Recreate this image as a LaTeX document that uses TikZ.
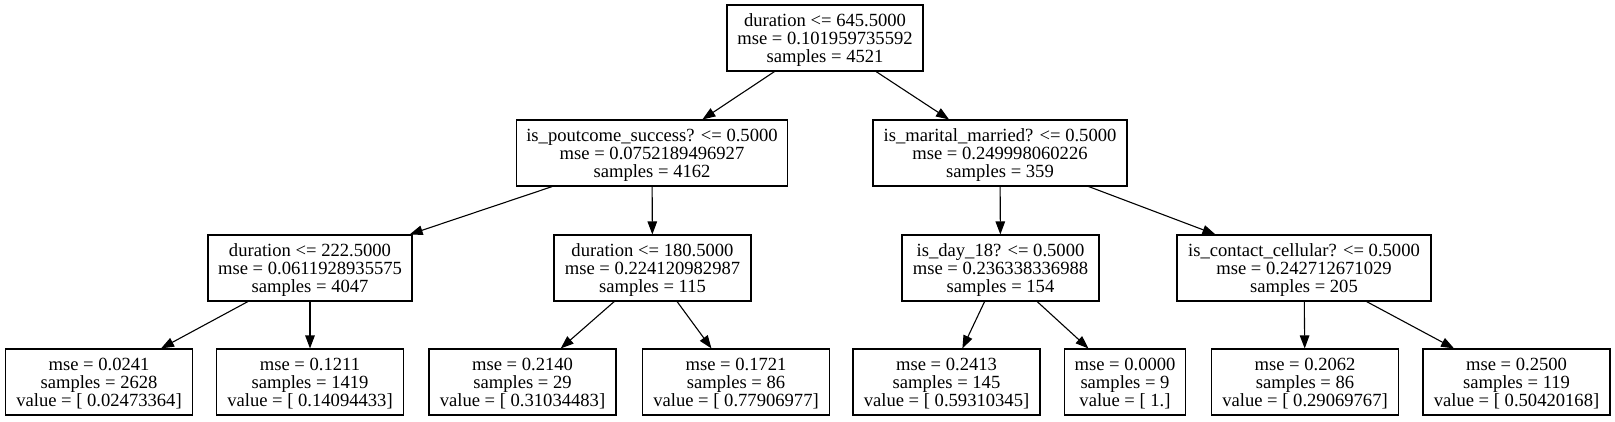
\documentclass[tikz,border=0pt]{standalone}
\usepackage{fontspec}
\setmainfont{Liberation Serif}
\usetikzlibrary{arrows.meta}
\begin{document}
\begin{tikzpicture}[x=1pt,y=-1pt,
  box/.style={draw=black, line width=1.1pt, rectangle, inner sep=0pt,
    minimum height=66pt, align=center,
    font=\fontsize{18.6}{18}\selectfont, text depth=0pt},
  leaf/.style={box, minimum width=187pt},
  edge/.style={draw=black, line width=1.1pt,
    -{Triangle[length=13pt,width=9.5pt]}}]
\useasboundingbox (0,0) rectangle (1615,421);
% level 0
\node[box, minimum width=196pt] (root) at (825,38)
  {duration <= 645.5000\\mse = 0.101959735592\\samples = 4521};
% level 1
\node[box, minimum width=271pt] (pout) at (652,153)
  {is\_poutcome\_success? <= 0.5000\\mse = 0.0752189496927\\samples = 4162};
\node[box, minimum width=254pt] (mar) at (1000,153)
  {is\_marital\_married? <= 0.5000\\mse = 0.249998060226\\samples = 359};
% level 2
\node[box, minimum width=204pt] (a) at (310,268)
  {duration <= 222.5000\\mse = 0.0611928935575\\samples = 4047};
\node[box, minimum width=197pt] (b) at (652.5,268)
  {duration <= 180.5000\\mse = 0.224120982987\\samples = 115};
\node[box, minimum width=197pt] (c) at (1000.5,268)
  {is\_day\_18? <= 0.5000\\mse = 0.236338336988\\samples = 154};
\node[box, minimum width=254pt] (d) at (1304,268)
  {is\_contact\_cellular? <= 0.5000\\mse = 0.242712671029\\samples = 205};
% leaves
\node[leaf] (l1) at (99,382)
  {mse = 0.0241\\samples = 2628\\value = [ 0.02473364]};
\node[leaf] (l2) at (310,382)
  {mse = 0.1211\\samples = 1419\\value = [ 0.14094433]};
\node[leaf] (l3) at (522.5,382)
  {mse = 0.2140\\samples = 29\\value = [ 0.31034483]};
\node[leaf] (l4) at (736,382)
  {mse = 0.1721\\samples = 86\\value = [ 0.77906977]};
\node[leaf] (l5) at (946.5,382)
  {mse = 0.2413\\samples = 145\\value = [ 0.59310345]};
\node[box, minimum width=121pt] (l6) at (1125,382)
  {mse = 0.0000\\samples = 9\\value = [ 1.]};
\node[leaf] (l7) at (1305,382)
  {mse = 0.2062\\samples = 86\\value = [ 0.29069767]};
\node[leaf] (l8) at (1516.5,382)
  {mse = 0.2500\\samples = 119\\value = [ 0.50420168]};
% edges
\draw[edge] (root) -- (pout);
\draw[edge] (root) -- (mar);
\draw[edge] (pout) -- (a);
\draw[edge] (pout) -- (b);
\draw[edge] (mar) -- (c);
\draw[edge] (mar) -- (d);
\draw[edge] (a) -- (l1);
\draw[edge] (a) -- (l2);
\draw[edge] (b) -- (l3);
\draw[edge] (b) -- (l4);
\draw[edge] (c) -- (l5);
\draw[edge] (c) -- (l6);
\draw[edge] (d) -- (l7);
\draw[edge] (d) -- (l8);
\end{tikzpicture}
\end{document}
